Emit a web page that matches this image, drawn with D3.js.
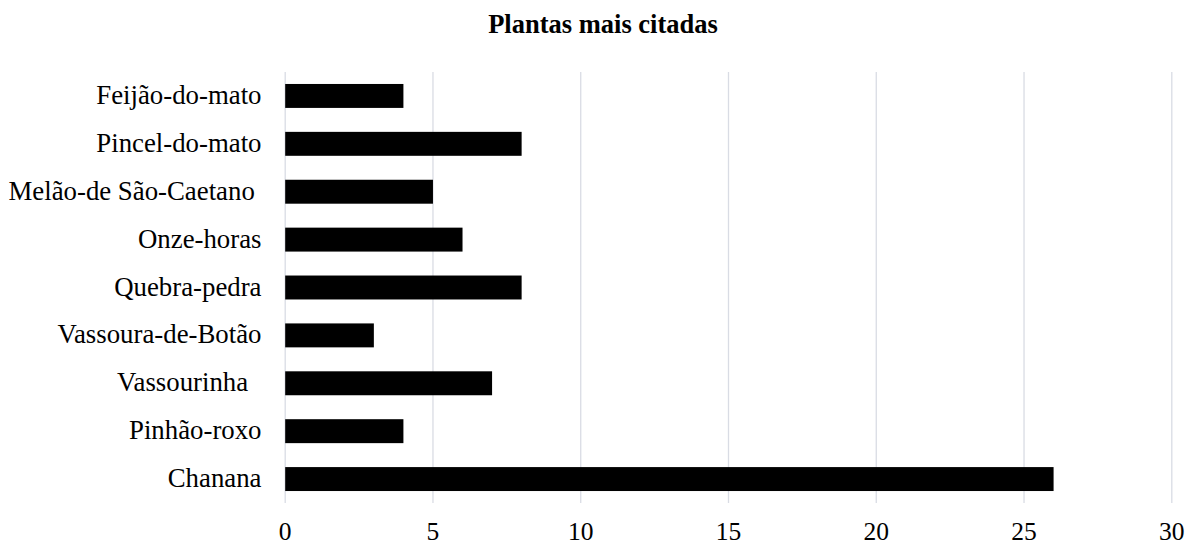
<!DOCTYPE html>
<html>
<head>
<meta charset="utf-8">
<script src="https://cdn.jsdelivr.net/npm/d3@7"></script>
<style>
  html, body { margin: 0; padding: 0; background: #fff; }
  text { font-family: "Liberation Serif", "Times New Roman", serif; fill: #000; }
</style>
</head>
<body>
<svg id="chart" width="1189" height="545"></svg>
<script>
const categories = ["Feijão-do-mato", "Pincel-do-mato", "Melão-de São-Caetano ", "Onze-horas", "Quebra-pedra", "Vassoura-de-Botão", "Vassourinha  ", "Pinhão-roxo", "Chanana"];
const values = [4, 8, 5, 6, 8, 3, 7, 4, 26];
const tickValues = [0, 5, 10, 15, 20, 25, 30];
const title = "Plantas mais citadas";

const svg = d3.select("#chart");
const margin = { left: 285.2, right: 1189 - 1171.8, top: 72, bottom: 545 - 503 };
const x = d3.scaleLinear().domain([0, 30]).range([margin.left, 1189 - margin.right]);
const y = d3.scaleBand().domain(categories).range([margin.top, 545 - margin.bottom])
  .paddingInner(0.5).paddingOuter(0.25);

// gridlines
svg.append("g").selectAll("line").data(tickValues).join("line")
  .attr("x1", d => x(d)).attr("x2", d => x(d))
  .attr("y1", margin.top).attr("y2", 545 - margin.bottom)
  .attr("stroke", "#d9dce4").attr("stroke-width", 1.3);

// bars
svg.append("g").selectAll("rect").data(values).join("rect")
  .attr("x", x(0))
  .attr("y", (d, i) => y(categories[i]))
  .attr("width", d => x(d) - x(0))
  .attr("height", y.bandwidth())
  .attr("fill", "#000");

// category labels
svg.append("g").selectAll("text").data(categories).join("text")
  .attr("x", 261.5)
  .attr("y", d => y(d) + y.bandwidth() / 2)
  .attr("dy", "0.3em")
  .attr("text-anchor", "end")
  .attr("font-size", 26.8)
  .style("white-space", "pre")
  .text(d => d);

// x tick labels
svg.append("g").selectAll("text").data(tickValues).join("text")
  .attr("x", d => x(d))
  .attr("y", 540)
  .attr("text-anchor", "middle")
  .attr("font-size", 25.5)
  .text(d => d);

// title
svg.append("text")
  .attr("x", 603)
  .attr("y", 33)
  .attr("text-anchor", "middle")
  .attr("font-size", 26.5)
  .attr("font-weight", "bold")
  .text(title);
</script>
</body>
</html>
